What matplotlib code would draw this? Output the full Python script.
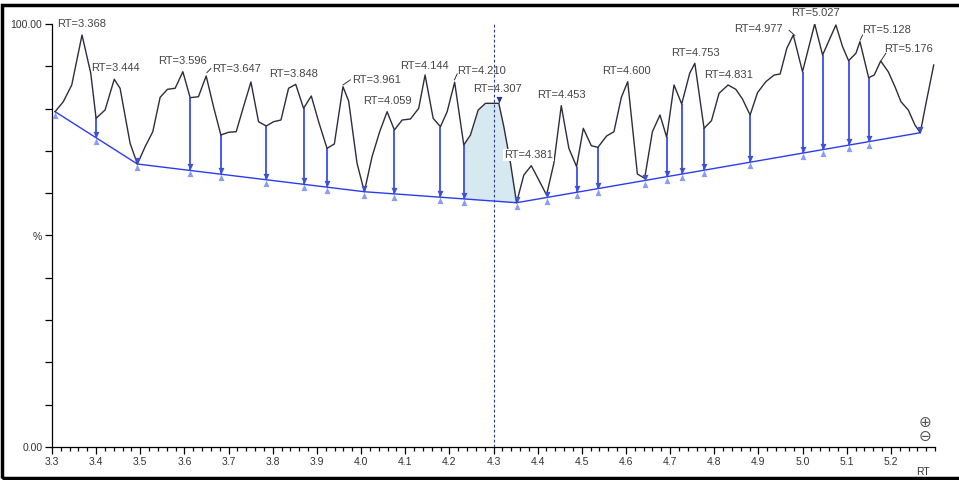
import numpy as np
import matplotlib
matplotlib.use('Agg')
import matplotlib.pyplot as plt
from matplotlib.path import Path
from matplotlib.patches import Rectangle

plt.rcParams['font.family'] = ['Liberation Sans', 'DejaVu Sans']

#--------------------------------------
# chromatogram trace (RT, %)
#--------------------------------------
rt = [3.307, 3.3256, 3.3447, 3.368, 3.3878, 3.3998, 3.4202, 3.4410, 3.4542, 3.4769,
      3.4934, 3.5109, 3.5283, 3.5449, 3.5615, 3.5789, 3.5964, 3.6129, 3.6317, 3.6492,
      3.6658, 3.6825, 3.6998, 3.7172, 3.7338, 3.7506, 3.7678, 3.7853, 3.8018, 3.8186,
      3.8358, 3.8520, 3.8698, 3.8873, 3.9039, 3.9229, 3.9395, 3.9590, 3.9719, 3.9909,
      4.0075, 4.0249, 4.0422, 4.0590, 4.0755, 4.0930, 4.1118, 4.1306, 4.1450, 4.1633,
      4.1798, 4.1950, 4.2120, 4.2327, 4.2478, 4.2653, 4.2819, 4.3120, 4.3234, 4.3385,
      4.3522, 4.3687, 4.3855, 4.4027, 4.4202, 4.4367, 4.4535, 4.4707, 4.4882, 4.5034,
      4.5215, 4.5365, 4.5562, 4.5728, 4.5896, 4.6040, 4.6259, 4.6424, 4.6599, 4.6771,
      4.6923, 4.7089, 4.7263, 4.7444, 4.7560, 4.7769, 4.7937, 4.8109, 4.8313, 4.8488,
      4.8639, 4.8812, 4.8980, 4.9168, 4.9356, 4.9492, 4.9644, 4.9790, 4.9999, 5.0275,
      5.0454, 5.0755, 5.0907, 5.1043, 5.1209, 5.1300, 5.1497, 5.1624, 5.1770, 5.1941,
      5.2093, 5.2229, 5.2395, 5.2546, 5.2667, 5.2796, 5.2971]
intensity = [79.27, 81.63, 85.58, 97.40, 88.35, 77.71, 79.67, 86.93, 84.80, 71.80,
             66.90, 70.99, 74.54, 82.67, 84.56, 84.80, 88.72, 82.58, 82.81, 87.71,
             80.45, 73.76, 74.40, 74.54, 80.45, 86.29, 76.90, 75.89, 76.90, 77.30,
             84.80, 85.74, 80.07, 82.98, 76.90, 70.61, 71.63, 85.18, 81.80, 67.07,
             60.35, 68.63, 74.54, 79.27, 74.94, 77.30, 77.54, 80.07, 87.94, 77.71,
             75.72, 79.27, 86.22, 71.39, 73.76, 79.67, 81.25, 81.25, 75.72, 67.07,
             57.75, 64.30, 66.50, 63.12, 59.57, 67.07, 80.69, 70.61, 66.27, 75.34,
             71.23, 70.85, 73.52, 74.54, 82.67, 86.36, 64.54, 63.52, 74.54, 78.49,
             73.22, 85.58, 81.09, 88.35, 90.71, 75.34, 77.14, 83.62, 85.58, 84.56,
             82.27, 78.49, 83.76, 86.36, 87.94, 88.18, 94.26, 97.40, 88.72, 100.0,
             92.67, 99.76, 94.63, 91.32, 93.07, 95.82, 87.31, 87.94, 91.25, 88.72,
             85.18, 81.63, 79.67, 76.12, 74.30, 81.25, 90.31]

# baseline vertices
base_rt = [3.307, 3.4934, 4.0075, 4.3522, 5.2667]
base_val = [79.27, 66.90, 60.35, 57.75, 74.30]

# valleys with drop lines to the baseline
drop_rt = [3.3998, 3.6129, 3.6825, 3.7853, 3.8698, 3.9229, 4.0755, 4.1798, 4.2327,
           4.4882, 4.5365, 4.6923, 4.7263, 4.7769, 4.8812, 4.9999, 5.0454, 5.1043, 5.1497]
# valleys sitting on the baseline
touch_rt = [3.4934, 4.0075, 4.3522, 4.4202, 4.6424]
apex_rt = 4.3120
shade_rt = (4.2327, 4.3522)
cursor_rt = 4.3

peak_labels = ['RT=3.368', 'RT=3.444', 'RT=3.596', 'RT=3.647', 'RT=3.848', 'RT=3.961',
               'RT=4.059', 'RT=4.144', 'RT=4.210', 'RT=4.307', 'RT=4.381', 'RT=4.453',
               'RT=4.600', 'RT=4.753', 'RT=4.831', 'RT=4.977', 'RT=5.027', 'RT=5.128',
               'RT=5.176']
label_xy = [(3.3113, 99.9), (3.3878, 89.5), (3.5404, 91.3), (3.6628, 89.4), (3.7921, 88.2),
            (3.9796, 86.8), (4.0036, 81.8), (4.0875, 90.1), (4.2177, 89.0), (4.2531, 84.6),
            (4.3249, 69.0), (4.3991, 83.2), (4.5465, 89.0), (4.7014, 93.1), (4.7769, 87.9),
            (4.8449, 98.8), (4.9735, 102.5), (5.1360, 98.6), (5.1850, 94.0)]
# short leader ticks (label index -> from, to)
leaders = {3: ((3.6508, 88.5), (3.6599, 89.5)),
           5: ((3.9592, 85.6), (3.9757, 86.8)),
           8: ((4.2116, 86.8), (4.2177, 88.2)),
           15: ((4.9825, 97.3), (4.9696, 98.5)),
           17: ((5.1306, 96.2), (5.1360, 97.4)),
           18: ((5.1776, 91.3), (5.1889, 93.1))}

xticks = np.round(np.arange(3.3, 5.21, 0.1), 1)
yticks = np.arange(0, 101, 10)
ytick_labels = ['0.00', '', '', '', '', '%', '', '', '', '', '100.00']

#--------------------------------------
rt = np.array(rt)
intensity = np.array(intensity)

fig = plt.figure(figsize=(9.59, 4.80), dpi=100)
ax = fig.add_axes([52/959, 1-447/480, 883/959, 423/480])

# shaded peak area
m = (rt >= shade_rt[0]-1e-6) & (rt <= shade_rt[1]+1e-6)
ax.fill_between(rt[m], intensity[m], np.interp(rt[m], base_rt, base_val),
                color='#d6e8f0', lw=0, zorder=1)

# cursor
ax.axvline(cursor_rt, color='#2b3a8c', lw=0.8, ls=(0, (2.5, 2)), ymax=1.005, zorder=2)

# baseline + drop lines
ax.plot(base_rt, base_val, color='#2a3cf0', lw=1.0, zorder=3)
drop_top = np.interp(drop_rt, rt, intensity)
drop_bot = np.interp(drop_rt, base_rt, base_val)
ax.vlines(drop_rt, drop_bot, drop_top, color='#3a4cf0', lw=1.3, zorder=3)

# chromatogram
ax.plot(rt, intensity, color='#2d2d3c', lw=1.0, zorder=4)

# hourglass markers
down = Path([(-0.45, 1.0), (0.45, 1.0), (0, 0), (-0.45, 1.0)])
up = Path([(-0.45, -1.0), (0.45, -1.0), (0, 0), (-0.45, -1.0)])
ms = 9.5
mk_x = list(drop_rt) + touch_rt
mk_y = list(drop_bot) + list(np.interp(touch_rt, base_rt, base_val))
ax.plot(mk_x, mk_y, ls='none', marker=up, ms=ms, color='#8b9cf2', mew=0, zorder=5)
ax.plot(mk_x, mk_y, ls='none', marker=down, ms=ms, color='#3d50d8', mew=0, zorder=5)
ax.plot(base_rt[0], base_val[0], ls='none', marker=up, ms=ms, color='#8b9cf2', mew=0, zorder=5)
ax.plot(base_rt[-1], base_val[-1], ls='none', marker=down, ms=ms, color='#3d50d8', mew=0, zorder=5)
ax.plot(apex_rt, np.interp(apex_rt, rt, intensity), ls='none', marker=down, ms=ms,
        color='#2a3490', mew=0, zorder=5)

# peak labels
for i, (lab, (lx, ly)) in enumerate(zip(peak_labels, label_xy)):
    kw = {}
    if lab == 'RT=4.381':
        kw['bbox'] = dict(boxstyle='square,pad=0.1', fc='white', ec='none')
    ax.text(lx, ly, lab, fontsize=8, color='#444444', ha='left', va='center',
            clip_on=False, zorder=6, **kw)
for i, (p0, p1) in leaders.items():
    ax.plot([p0[0], p1[0]], [p0[1], p1[1]], color='#333333', lw=0.7, clip_on=False, zorder=6)

# axes
ax.set_xlim(3.3, 5.3)
ax.set_ylim(0, 100)
ax.spines['top'].set_visible(False)
ax.spines['right'].set_visible(False)
ax.spines['left'].set_linewidth(0.9)
ax.spines['bottom'].set_linewidth(0.9)
ax.set_xticks(xticks)
ax.set_xticklabels(['%.1f' % v for v in xticks])
ax.set_xticks(np.round(np.arange(3.3, 5.301, 0.02), 2), minor=True)
ax.set_yticks(yticks)
ax.set_yticklabels(ytick_labels)
ax.tick_params(axis='x', which='major', length=5, width=0.9, labelsize=7.5,
               labelcolor='#333333', pad=2)
ax.tick_params(axis='x', which='minor', length=3, width=0.9)
ax.tick_params(axis='y', length=5, width=0.9, labelsize=7.5, labelcolor='#333333', pad=2)

fig.text(923/959, 1-472/480, 'RT', fontsize=7.5, color='#333333', ha='center', va='center')
fig.text(925/959, 1-423/480, '\u2295', fontsize=11, color='#555555', ha='center', va='center')
fig.text(925/959, 1-437/480, '\u2296', fontsize=11, color='#555555', ha='center', va='center')

# outer frame
fig.patches.append(Rectangle((1.5/959, 2.5/480), 1.1, 1-7/480, transform=fig.transFigure,
                             fill=False, ec='black', lw=2.5))

fig.savefig('out.png', dpi=100)
